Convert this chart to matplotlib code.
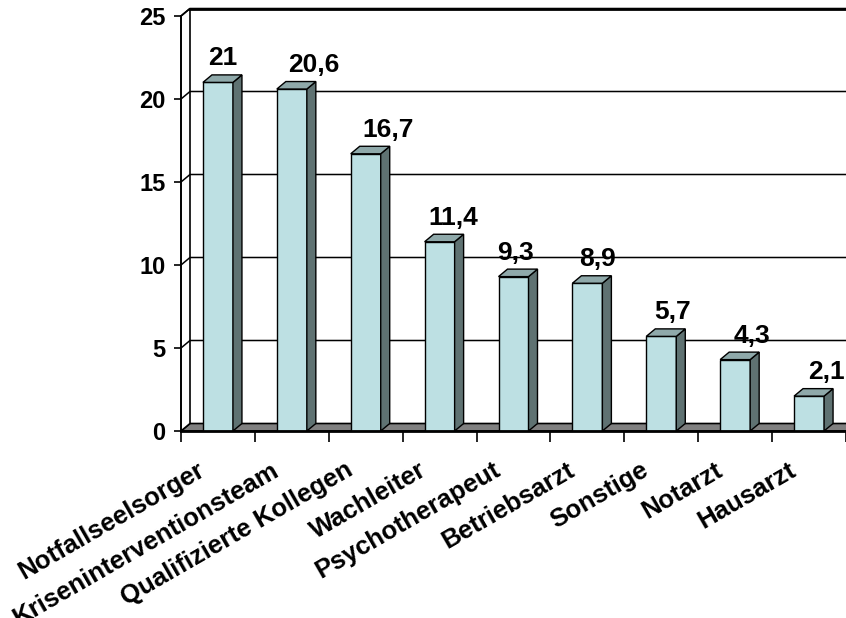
import matplotlib
matplotlib.use("Agg")
import matplotlib.pyplot as plt
from matplotlib.patches import Polygon

categories = ["Notfallseelsorger", "Kriseninterventionsteam", "Qualifizierte Kollegen",
              "Wachleiter", "Psychotherapeut", "Betriebsarzt", "Sonstige", "Notarzt", "Hausarzt"]
values = [21, 20.6, 16.7, 11.4, 9.3, 8.9, 5.7, 4.3, 2.1]
value_labels = ["21", "20,6", "16,7", "11,4", "9,3", "8,9", "5,7", "4,3", "2,1"]
yticks = [0, 5, 10, 15, 20, 25]

# style / layout
FRONT = "#BDE0E3"
SIDE = "#5F7272"
TOP = "#8FA9AA"
FLOOR = "#808080"
FONT = "Liberation Sans"
label_nudge_px = [5, 22, 22, 14, 2, 10, 11, 17, 17]

W, H = 846, 618
fig = plt.figure(figsize=(W / 100, H / 100), dpi=100)
ax = fig.add_axes([181 / W, 187 / H, 665 / W, 415 / H])
n = len(categories)
ax.set_xlim(0, n)
ax.set_ylim(0, 25)

# depth in data units
px_x = n / 665.0
px_y = 25 / 415.0
DX = 9 * px_x
DY = 7.5 * px_y
HW = 15 * px_x

# floor
ax.add_patch(Polygon([(0, 0), (n + 1, 0), (n + 1 + DX, DY), (DX, DY)], closed=True,
                     facecolor=FLOOR, edgecolor="black", lw=1.2, clip_on=False, zorder=1))
# left wall
ax.add_patch(Polygon([(0, 0), (DX, DY), (DX, 25 + DY), (0, 25)], closed=True,
                     facecolor="white", edgecolor="black", lw=1.2, clip_on=False, zorder=1))
# gridlines (diagonal on side wall + horizontal on back wall)
for v in yticks[1:]:
    ax.plot([0, DX, n + 1], [v, v + DY, v + DY], color="black", lw=1.1,
            clip_on=False, zorder=1.5)
# top line of back wall thicker
ax.plot([DX, n + 1], [25 + DY, 25 + DY], color="black", lw=2.0, clip_on=False, zorder=1.6)

# bars
for i, v in enumerate(values):
    c = i + 0.5
    x0, x1 = c - HW, c + HW
    ax.add_patch(Polygon([(x0, 0), (x1, 0), (x1, v), (x0, v)], closed=True,
                         facecolor=FRONT, edgecolor="black", lw=1.0, zorder=3))
    ax.add_patch(Polygon([(x1, 0), (x1 + DX, DY), (x1 + DX, v + DY), (x1, v)], closed=True,
                         facecolor=SIDE, edgecolor="black", lw=1.0, zorder=3))
    ax.add_patch(Polygon([(x0, v), (x1, v), (x1 + DX, v + DY), (x0 + DX, v + DY)], closed=True,
                         facecolor=TOP, edgecolor="black", lw=1.0, zorder=3))
    ax.annotate(value_labels[i], xy=(c, v), xytext=(label_nudge_px[i], 12),
                textcoords="offset pixels", ha="center", va="bottom",
                fontsize=19, fontweight="bold", family=FONT, annotation_clip=False, zorder=5)
    ax.annotate(categories[i], xy=(c, 0), xytext=(-21, -27), textcoords="offset pixels",
                ha="right", va="top", rotation=30, rotation_mode="anchor",
                fontsize=18.5, fontweight="bold", family=FONT, annotation_clip=False)

# axes / ticks
for s in ["top", "right"]:
    ax.spines[s].set_visible(False)
ax.spines["left"].set_linewidth(1.2)
ax.spines["bottom"].set_linewidth(2.0)
ax.spines["bottom"].set_bounds(0, n + 1)
ax.spines["bottom"].set_zorder(4)
ax.set_yticks(yticks)
ax.set_yticklabels([str(t) for t in yticks], fontsize=17, fontweight="bold", family=FONT)
ax.set_xticks(range(n + 1))
ax.set_xticklabels([])
ax.tick_params(axis="y", direction="out", length=5, width=1.2, pad=6)
ax.tick_params(axis="x", direction="out", length=8, width=1.2)
ax.patch.set_visible(False)

fig.savefig("out.png", dpi=100)
